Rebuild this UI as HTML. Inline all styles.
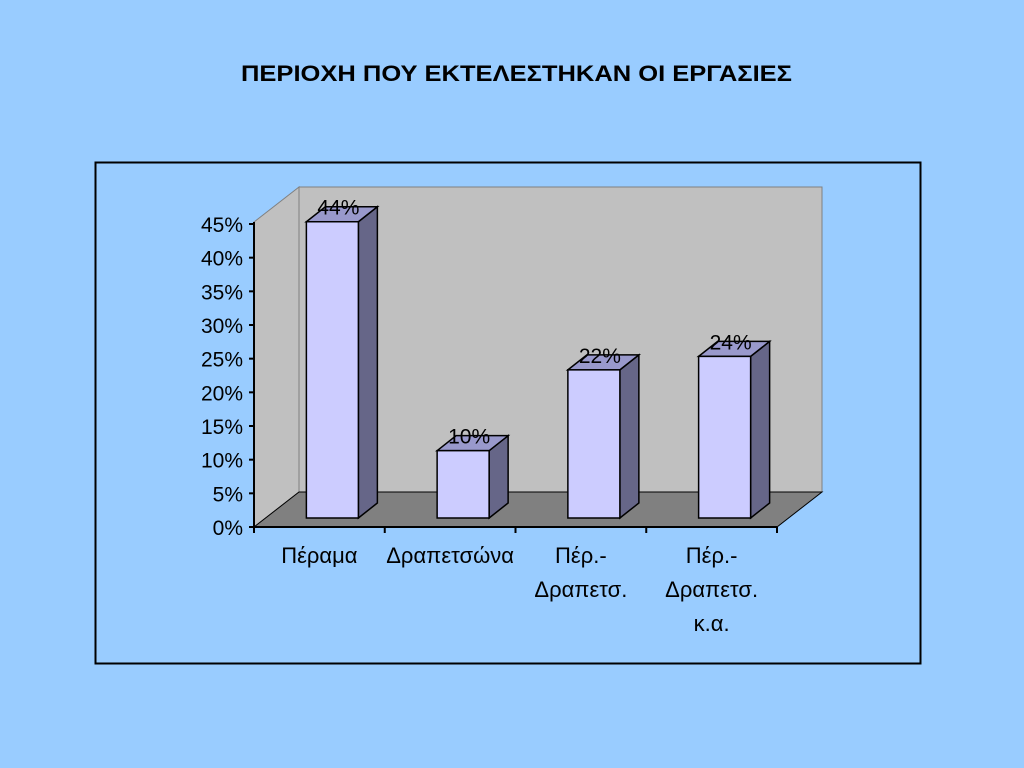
<!DOCTYPE html>
<html><head><meta charset="utf-8"><style>
html,body{margin:0;padding:0;width:1024px;height:768px;background:#99CCFF;overflow:hidden}
svg{display:block}
text{font-family:"Liberation Sans","DejaVu Sans",sans-serif}
</style></head><body>
<svg id="chart" width="1024" height="768">
<text x="241" y="81" textLength="551" lengthAdjust="spacingAndGlyphs" font-size="22" font-weight="bold">ΠΕΡΙΟΧΗ ΠΟΥ ΕΚΤΕΛΕΣΤΗΚΑΝ ΟΙ ΕΡΓΑΣΙΕΣ</text>
<rect x="95.5" y="162.5" width="825" height="501" fill="none" stroke="#000" stroke-width="2"/>
<g id="plot"></g>
</svg>
<script>
const categories=[["Πέραμα"],["Δραπετσώνα"],["Πέρ.-","Δραπετσ."],["Πέρ.-","Δραπετσ.","κ.α."]];
const values=[44,10,22,24];
const valueLabels=["44%","10%","22%","24%"];
const yTicks=[0,5,10,15,20,25,30,35,40,45];
const yMax=45;
const NS="http://www.w3.org/2000/svg";
const g=document.getElementById('plot');
const X0=254,X1=777,Y0=527,Ytop=224,DX=45,DY=-35;
function y(v){return Y0-(v/yMax)*(Y0-Ytop);}
const catW=(X1-X0)/categories.length;
function cx(i){return X0+catW*(i+0.5);}
function mk(tag,attrs){const e=document.createElementNS(NS,tag);for(const k in attrs)e.setAttribute(k,attrs[k]);g.appendChild(e);return e;}
function pts(a){return a.map(p=>p.join(',')).join(' ');}
let e=mk('polygon',{points:pts([[X0,y(yMax)-2],[X0+DX,y(yMax)-2+DY],[X0+DX,Y0+DY],[X0,Y0]]),fill:'#C0C0C0',stroke:'#808080'});

e=mk('polygon',{points:pts([[X0+DX,y(yMax)-2+DY],[X1+DX,y(yMax)-2+DY],[X1+DX,Y0+DY],[X0+DX,Y0+DY]]),fill:'#C0C0C0',stroke:'#808080'});

e=mk('polygon',{points:pts([[X0,Y0],[X0+DX,Y0+DY],[X1+DX,Y0+DY],[X1,Y0]]),fill:'#808080',stroke:'#000'});

e=mk('line',{x1:X0,y1:y(yMax)-2,x2:X0,y2:Y0,stroke:'#000','stroke-width':2});

e=mk('line',{x1:X0,y1:Y0,x2:X1,y2:Y0,stroke:'#000','stroke-width':2});

yTicks.forEach(t=>{
 const l=mk('line',{x1:X0-5,y1:y(t),x2:X0,y2:y(t),stroke:'#000','stroke-width':2});
 
 const tx=mk('text',{x:X0-11,y:y(t)+8,'text-anchor':'end','font-size':21});
 tx.textContent=t+'%';
 
});
for(let i=0;i<=categories.length;i++){
 const l=mk('line',{x1:X0+catW*i,y1:Y0,x2:X0+catW*i,y2:Y0+6,stroke:'#000','stroke-width':2});
 
}
const bw=52,ox=13,oy=-9,bdx=19,bdy=-15;
values.forEach((v,i)=>{
 const L=cx(i)+ox-bw/2,R=L+bw,B=Y0+oy,T=y(v)+oy;
 let p=mk('polygon',{points:pts([[R,B],[R+bdx,B+bdy],[R+bdx,T+bdy],[R,T]]),fill:'#666688',stroke:'#000','stroke-width':1.5});
 
 p=mk('polygon',{points:pts([[L,T],[L+bdx,T+bdy],[R+bdx,T+bdy],[R,T]]),fill:'#9999CC',stroke:'#000','stroke-width':1.5});
 
 p=mk('rect',{x:L,y:T,width:bw,height:B-T,fill:'#CCCCFF',stroke:'#000','stroke-width':1.5});
 
 const t=mk('text',{x:cx(i)+ox+6,y:T-7,'text-anchor':'middle','font-size':21});
 t.textContent=valueLabels[i];
 
 categories[i].forEach((s,j)=>{
  const c=mk('text',{x:cx(i),y:563+j*34,'text-anchor':'middle','font-size':22});
  c.textContent=s;
  
 });
});
</script>
</body></html>
